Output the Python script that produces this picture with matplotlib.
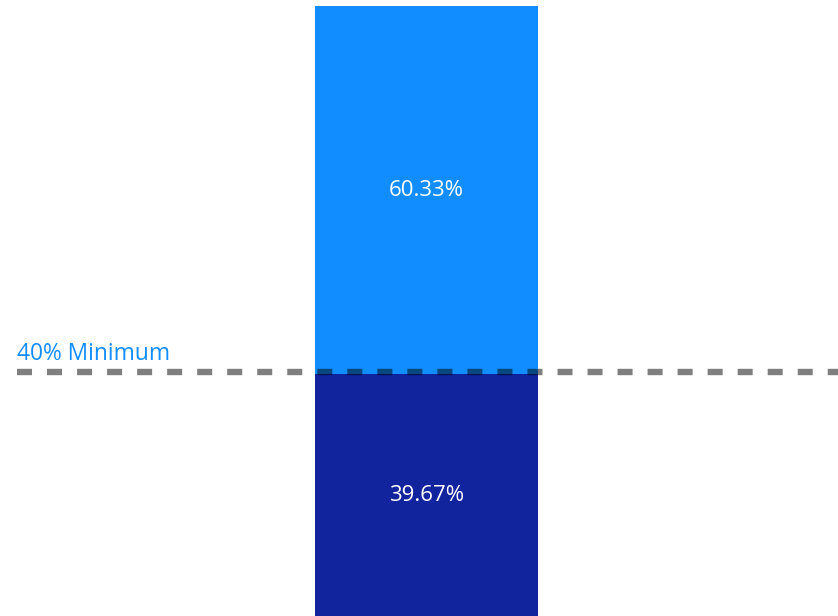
import matplotlib
matplotlib.use("Agg")
import matplotlib.pyplot as plt

# stacked share values (percent)
segments = ["Lower", "Upper"]
values = [39.67, 60.33]
colors = ["#12239E", "#118DFF"]
threshold = 40
threshold_label = "40% Minimum"

W, H, DPI = 838, 616, 100
fig = plt.figure(figsize=(W / DPI, H / DPI), dpi=DPI)
ax = fig.add_axes([17 / W, 0, 821 / W, 610 / H])

bottom = 0
for seg, val, col in zip(segments, values, colors):
    ax.bar(0, val, bottom=bottom, width=0.2716, color=col, zorder=1)
    ax.text(0, bottom + val / 2, f"{val:.2f}%", ha="center", va="center",
            color="white", fontsize=16, family="Open Sans", zorder=3)
    bottom += val

# dashed minimum line, drawn over the bars
ax.axhline(threshold, color="black", alpha=0.5, linewidth=4.6,
           linestyle=(0, (2.35, 2.35)), zorder=2)
ax.text(0.0, 42.0, threshold_label, transform=ax.get_yaxis_transform(),
        ha="left", va="baseline", color="#118DFF", fontsize=16.4,
        family="Open Sans")

ax.set_xlim(-0.4988, 0.5012)
ax.set_ylim(0, 100)
ax.axis("off")

fig.savefig("out.png", dpi=DPI)
